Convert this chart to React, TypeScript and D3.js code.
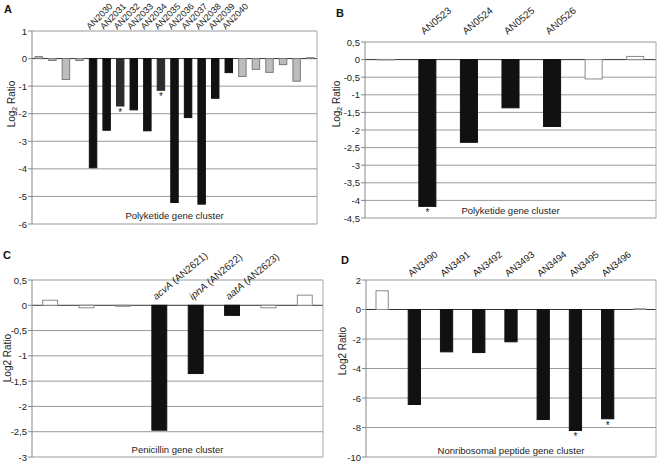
import React from "react";
import * as d3 from "d3";

// ---------- DATA ----------
const valuesA = [0.07, -0.07, -0.76, -0.07, -3.96, -2.6, -1.72, -1.86, -2.62, -1.15, -5.22, -2.14, -5.28, -1.44, -0.51, -0.65, -0.39, -0.5, -0.22, -0.82, 0.03];
const groupsA = ["flank", "flank", "flank", "flank", "cluster", "cluster", "clusterB", "cluster", "cluster", "clusterB", "cluster", "cluster", "cluster", "cluster", "cluster", "flank", "flank", "flank", "flank", "flank", "flank"];
const labelsA = ["", "", "", "", "AN2030", "AN2031", "AN2032", "AN2033", "AN2034", "AN2035", "AN2036", "AN2037", "AN2038", "AN2039", "AN2040", "", "", "", "", "", ""];
const starsA = [0, 0, 0, 0, 0, 0, 1, 0, 0, 1, 0, 0, 0, 0, 0, 0, 0, 0, 0, 0, 0];
const ticksA = [1, 0, -1, -2, -3, -4, -5, -6];

const valuesB = [0.005, -4.17, -2.35, -1.37, -1.9, -0.55, 0.09];
const groupsB = ["outside", "cluster", "cluster", "cluster", "cluster", "outside", "outside"];
const labelsB = ["", "AN0523", "AN0524", "AN0525", "AN0526", "", ""];
const starsB = [0, 1, 0, 0, 0, 0, 0];
const ticksB = [0.5, 0, -0.5, -1, -1.5, -2, -2.5, -3, -3.5, -4, -4.5];

const valuesC = [0.1, -0.05, -0.02, -2.47, -1.35, -0.2, -0.05, 0.2];
const groupsC = ["outside", "outside", "outside", "cluster", "cluster", "cluster", "outside", "outside"];
const labelsC = ["", "", "", "acvA (AN2621)", "ipnA (AN2622)", "aatA (AN2623)", "", ""];
const starsC = [0, 0, 0, 0, 0, 0, 0, 0];
const ticksC = [0.5, 0, -0.5, -1, -1.5, -2, -2.5, -3];

const valuesD = [1.27, -6.44, -2.87, -2.92, -2.19, -7.46, -8.2, -7.41, 0.05];
const groupsD = ["outside", "cluster", "cluster", "cluster", "cluster", "cluster", "cluster", "cluster", "outside"];
const labelsD = ["", "AN3490", "AN3491", "AN3492", "AN3493", "AN3494", "AN3495", "AN3496", ""];
const starsD = [0, 0, 0, 0, 0, 0, 1, 1, 0];
const ticksD = [2, 0, -2, -4, -6, -8, -10];

// ---------- STYLE ----------
const FONT = "'Liberation Sans', Arial, sans-serif";
const fills: Record<string, { fill: string; stroke: string }> = {
  cluster: { fill: "#111111", stroke: "#111111" },
  clusterB: { fill: "#2c2c2c", stroke: "#2c2c2c" },
  flank: { fill: "#bdbdbd", stroke: "#7a7a7a" },
  outside: { fill: "#ffffff", stroke: "#8a8a8a" },
};

type PanelProps = {
  letter: string;
  letterX: number;
  letterY: number;
  left: number;
  right: number;
  top: number;
  bottom: number;
  values: number[];
  groups: string[];
  labels: string[];
  stars: number[];
  ticks: number[];
  barFrac: number;
  labelAngle: number;
  labelFont: number;
  labelMode: "top" | "zero";
  labelOffset: number;
  title: string;
  titleY: number;
  ylabX: number;
  ylabY: number;
  subscript: boolean;
};

function fmt(v: number) {
  return String(v).replace(".", ",");
}

function Panel(p: PanelProps) {
  const y = d3.scaleLinear().domain([p.ticks[p.ticks.length - 1], p.ticks[0]]).range([p.bottom, p.top]);
  const x = d3
    .scaleBand<number>()
    .domain(d3.range(p.values.length))
    .range([p.left, p.right])
    .paddingInner(0)
    .paddingOuter(0);
  const bw = x.bandwidth() * p.barFrac;
  const y0 = y(0);
  return (
    <g fontFamily={FONT}>
      <text x={p.letterX} y={p.letterY} fontSize={11} fontWeight="bold" fill="#111">
        {p.letter}
      </text>
      {/* gridlines */}
      {p.ticks.map((t) => (
        <line
          key={"g" + t}
          x1={p.left}
          x2={p.right}
          y1={y(t)}
          y2={y(t)}
          stroke={t === 0 ? "#333" : "#9a9a9a"}
          strokeWidth={1}
        />
      ))}
      {/* frame */}
      <line x1={p.right} x2={p.right} y1={p.top} y2={p.bottom} stroke="#a8a8a8" />
      <line x1={p.left} x2={p.left} y1={p.top} y2={p.bottom} stroke="#888" />
      {p.ticks.map((t) => (
        <g key={"t" + t}>
          <line x1={p.left - 4} x2={p.left} y1={y(t)} y2={y(t)} stroke="#888" />
          <text x={p.left - 5} y={y(t) + 3.5} fontSize={9.5} textAnchor="end" fill="#222">
            {fmt(t)}
          </text>
        </g>
      ))}
      {/* bars */}
      {p.values.map((v, i) => {
        const cx = (x(i) as number) + x.bandwidth() / 2;
        const yv = y(v);
        const st = fills[p.groups[i]];
        const h = Math.max(Math.abs(yv - y0), 0.5);
        return (
          <g key={"b" + i}>
            <rect
              x={cx - bw / 2}
              y={Math.min(yv, y0)}
              width={bw}
              height={h}
              fill={st.fill}
              stroke={st.stroke}
              strokeWidth={1}
            />
            {p.stars[i] ? (
              <text x={cx} y={yv + 10} fontSize={10} textAnchor="middle" fill="#222">
                *
              </text>
            ) : null}
          </g>
        );
      })}
      {/* category labels */}
      {p.labels.map((lab, i) => {
        if (!lab) return null;
        const cx = (x(i) as number) + x.bandwidth() / 2;
        const ly = p.labelMode === "top" ? p.top - p.labelOffset : y0 - p.labelOffset;
        const lx = cx - 3;
        const sp = lab.indexOf(" ");
        return (
          <text
            key={"l" + i}
            transform={`translate(${lx},${ly}) rotate(${p.labelAngle})`}
            fontSize={p.labelFont}
            fill="#222"
          >
            {sp > 0 ? (
              <>
                <tspan fontStyle="italic">{lab.slice(0, sp)}</tspan>
                <tspan>{lab.slice(sp)}</tspan>
              </>
            ) : (
              lab
            )}
          </text>
        );
      })}
      <text x={(p.left + p.right) / 2} y={p.titleY} fontSize={9.5} textAnchor="middle" fill="#222">
        {p.title}
      </text>
      <text
        transform={`translate(${p.ylabX},${p.ylabY}) rotate(-90)`}
        fontSize={10}
        textAnchor="middle"
        fill="#222"
      >
        {p.subscript ? (
          <>
            Log<tspan fontSize={7} dy={2}>2</tspan>
            <tspan dy={-2}> Ratio</tspan>
          </>
        ) : (
          "Log2 Ratio"
        )}
      </text>
    </g>
  );
}

export default function App() {
  return (
    <svg
      width={661}
      height={474}
      style={{ position: "absolute", left: 0, top: 0, background: "#fff" }}
    >
      <rect width={661} height={474} fill="#fff" />
      <Panel
        letter="A"
        letterX={4}
        letterY={13}
        left={32}
        right={317}
        top={31}
        bottom={224}
        values={valuesA}
        groups={groupsA}
        labels={labelsA}
        stars={starsA}
        ticks={ticksA}
        barFrac={0.55}
        labelAngle={-45}
        labelFont={9}
        labelMode="top"
        labelOffset={1}
        title="Polyketide gene cluster"
        titleY={219}
        ylabX={15}
        ylabY={104}
        subscript={true}
      />
      <Panel
        letter="B"
        letterX={336}
        letterY={17}
        left={365}
        right={656}
        top={42}
        bottom={218}
        values={valuesB}
        groups={groupsB}
        labels={labelsB}
        stars={starsB}
        ticks={ticksB}
        barFrac={0.41}
        labelAngle={-40}
        labelFont={10}
        labelMode="top"
        labelOffset={7}
        title="Polyketide gene cluster"
        titleY={214}
        ylabX={340}
        ylabY={104}
        subscript={true}
      />
      <Panel
        letter="C"
        letterX={3}
        letterY={259}
        left={32}
        right={323}
        top={280}
        bottom={457}
        values={valuesC}
        groups={groupsC}
        labels={labelsC}
        stars={starsC}
        ticks={ticksC}
        barFrac={0.41}
        labelAngle={-40}
        labelFont={10}
        labelMode="zero"
        labelOffset={5}
        title="Penicillin gene cluster"
        titleY={453}
        ylabX={11}
        ylabY={358}
        subscript={false}
      />
      <Panel
        letter="D"
        letterX={341}
        letterY={264}
        left={366}
        right={656}
        top={280}
        bottom={457}
        values={valuesD}
        groups={groupsD}
        labels={labelsD}
        stars={starsD}
        ticks={ticksD}
        barFrac={0.38}
        labelAngle={-38}
        labelFont={9.5}
        labelMode="top"
        labelOffset={3}
        title="Nonribosomal peptide gene cluster"
        titleY={454}
        ylabX={346}
        ylabY={351}
        subscript={false}
      />
    </svg>
  );
}
